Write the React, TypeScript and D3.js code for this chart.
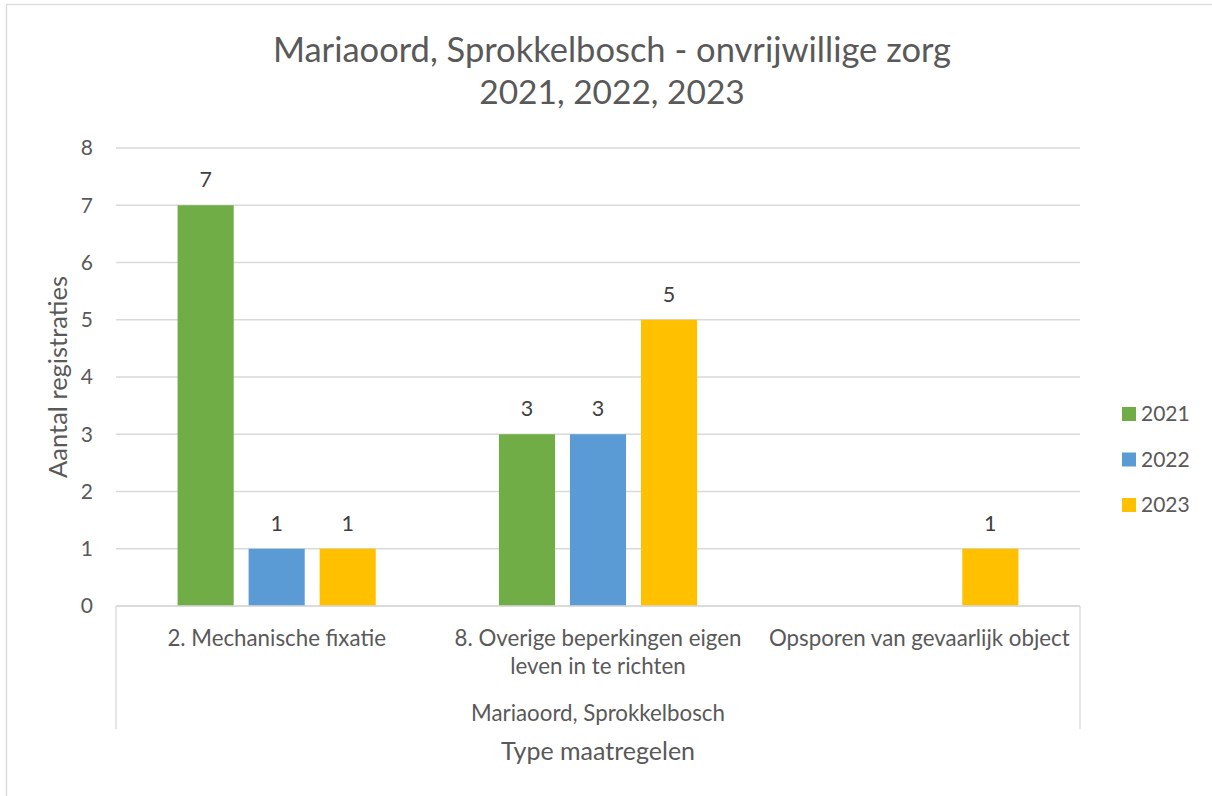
import * as d3 from 'd3'

const categories = [
  ['2. Mechanische fixatie'],
  ['8. Overige beperkingen eigen', 'leven in te richten'],
  ['Opsporen van gevaarlijk object'],
]
const groupLabel = 'Mariaoord, Sprokkelbosch'
const years = ['2021', '2022', '2023']
const values2021 = [7, 3, 0]
const values2022 = [1, 3, 0]
const values2023 = [1, 5, 1]
const yTicks = [0, 1, 2, 3, 4, 5, 6, 7, 8]
const titleLines = ['Mariaoord, Sprokkelbosch - onvrijwillige zorg', '2021, 2022, 2023']

const W = 1212, H = 796
const LEFT = 116, RIGHT = 1080, TOP = 148, BOTTOM = 606
const COLORS = ['#70AD47', '#5B9BD5', '#FFC000']
const TEXT = '#595959'
const GRID = '#D9D9D9'
const FONT = 'Lato, "Open Sans", sans-serif'

export default function App() {
  const series = [values2021, values2022, values2023]
  const catIdx = categories.map((_, i) => String(i))

  const x0 = d3.scaleBand<string>().domain(catIdx).range([LEFT, RIGHT]).padding(0)
  const x1 = d3.scaleBand<string>().domain(years).range([0, x0.bandwidth()])
    .paddingInner(0.21).paddingOuter(0.867)
  const y = d3.scaleLinear().domain([0, 8]).range([BOTTOM, TOP])

  return (
    <svg width={W} height={H} style={{ position: 'absolute', left: 0, top: 0, background: '#fff' }}
      fontFamily={FONT}>
      {/* chart frame */}
      <rect x={6.5} y={4.5} width={W + 20} height={H + 20} fill="#fff" stroke={GRID} strokeWidth={1.3} />

      {/* title */}
      {titleLines.map((t, i) => (
        <text key={t} x={612} y={62 + i * 42} textAnchor="middle" fill={TEXT} fontSize={i === 0 ? 34.5 : 33.5}>{t}</text>
      ))}

      {/* gridlines */}
      {yTicks.map(t => (
        <line key={t} x1={LEFT} x2={RIGHT} y1={y(t)} y2={y(t)} stroke={GRID} strokeWidth={1.3} />
      ))}

      {/* y tick labels */}
      {yTicks.map(t => (
        <text key={'l' + t} x={93} y={y(t)} dy="0.35em" textAnchor="end" fill={TEXT} fontSize={21}>{t}</text>
      ))}

      {/* bars */}
      {categories.map((_, ci) => (
        <g key={ci} transform={`translate(${x0(String(ci))},0)`}>
          {years.map((yr, si) => {
            const v = series[si][ci]
            const bx = x1(yr)!
            return (
              <g key={yr}>
                <rect x={bx} y={y(v)} width={x1.bandwidth()} height={BOTTOM - y(v)} fill={COLORS[si]} />
                {v > 0 && (
                  <text x={bx + x1.bandwidth() / 2} y={y(v) - 18} textAnchor="middle" fill="#404040" fontSize={21.5}>{v}</text>
                )}
              </g>
            )
          })}
        </g>
      ))}

      {/* x axis */}
      <line x1={LEFT} x2={RIGHT} y1={BOTTOM} y2={BOTTOM} stroke={GRID} strokeWidth={1.3} />
      <line x1={LEFT} x2={LEFT} y1={BOTTOM} y2={729} stroke={GRID} strokeWidth={1.3} />
      <line x1={RIGHT} x2={RIGHT} y1={BOTTOM} y2={729} stroke={GRID} strokeWidth={1.3} />

      {/* category labels */}
      {categories.map((lines, ci) => (
        <text key={ci} textAnchor="middle" fill={TEXT} fontSize={22.3}>
          {lines.map((ln, li) => (
            <tspan key={li} x={x0(String(ci))! + x0.bandwidth() / 2} y={646 + li * 28}>{ln}</tspan>
          ))}
        </text>
      ))}
      <text x={(LEFT + RIGHT) / 2} y={721} textAnchor="middle" fill={TEXT} fontSize={22.3}>{groupLabel}</text>

      {/* axis titles */}
      <text x={(LEFT + RIGHT) / 2} y={760} textAnchor="middle" fill={TEXT} fontSize={25}>Type maatregelen</text>
      <text transform={`translate(67,${(TOP + BOTTOM) / 2}) rotate(-90)`} textAnchor="middle" fill={TEXT} fontSize={25.5}>
        Aantal registraties
      </text>

      {/* legend */}
      {years.map((yr, i) => (
        <g key={yr} transform={`translate(1122,${414 + i * 45.5})`}>
          <rect x={0} y={-7} width={14} height={14} fill={COLORS[i]} />
          <text x={19} y={0} dy="0.35em" fill={TEXT} fontSize={21}>{yr}</text>
        </g>
      ))}
    </svg>
  )
}
